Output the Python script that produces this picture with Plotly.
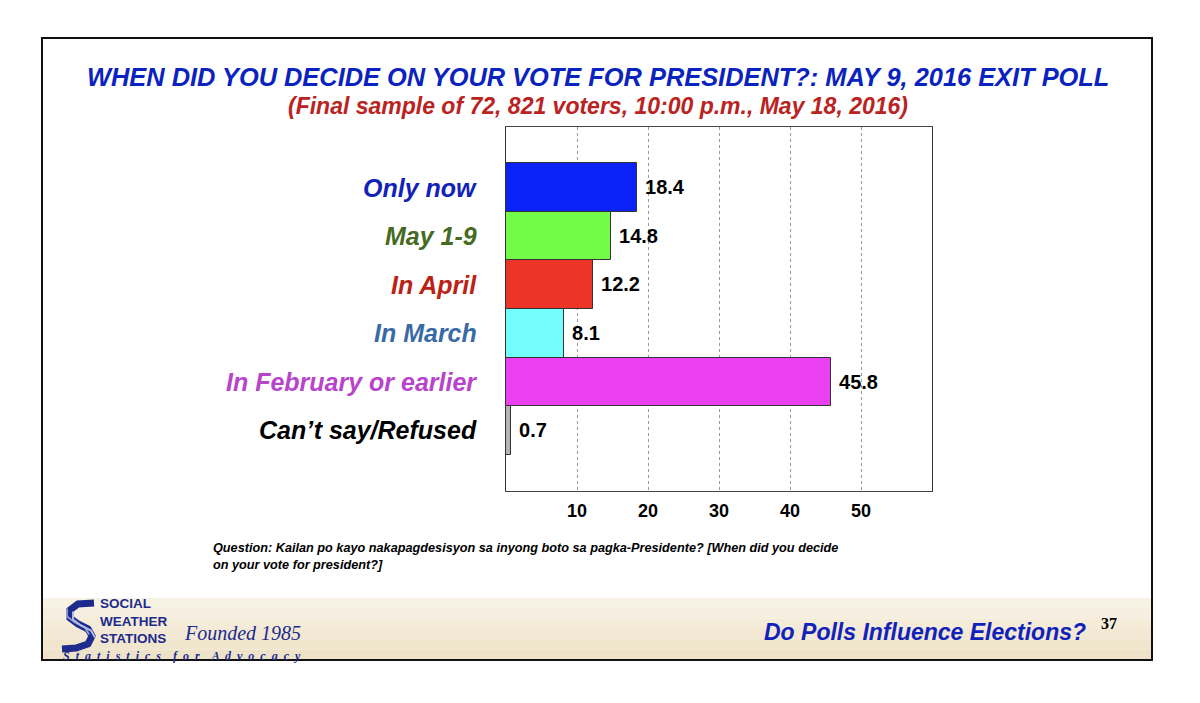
import plotly.graph_objects as go

# ---------------- data ----------------
categories = ["Only now", "May 1-9", "In April", "In March",
              "In February or earlier", "Can\u2019t say/Refused"]
values = [18.4, 14.8, 12.2, 8.1, 45.8, 0.7]
bar_colors = ["#0a22f5", "#74fb4a", "#ec3526", "#74fdfd", "#ea40f2", "#b4b4b4"]
label_colors = ["#1122bb", "#466a22", "#bb2215", "#3a6aa6", "#b844cc", "#000000"]
x_ticks = [10, 20, 30, 40, 50]

title_text = "WHEN DID YOU DECIDE ON YOUR VOTE FOR PRESIDENT?: MAY 9, 2016 EXIT POLL"
subtitle_text = "(Final sample of 72, 821 voters, 10:00 p.m., May 18, 2016)"
question_text = ("Question: Kailan po kayo nakapagdesisyon sa inyong boto sa pagka-Presidente? "
                 "[When did you decide<br>on your vote for president?]")
footer_text = "Do Polls Influence Elections?"
page_no = "37"
logo_lines = ["SOCIAL", "WEATHER", "STATIONS"]

W, H = 1200, 703


def px(x):
    return x / W


def py(y):
    return 1 - y / H


SANS = "Liberation Sans, Arial, Helvetica, sans-serif"
SERIF = "Liberation Serif, Times New Roman, serif"

ypos = list(range(len(categories)))

fig = go.Figure()
fig.add_trace(go.Bar(
    y=ypos, x=values, orientation="h",
    marker=dict(color=bar_colors, line=dict(color="#333333", width=1)),
    width=1,
    text=["\u00a0" + f"{v:.1f}" for v in values],
    textposition="outside",
    textfont=dict(family=SANS, size=20, color="#000000", weight="bold"),
    cliponaxis=False,
    hoverinfo="skip",
))

shapes = []
band_cols = ["#f8f2e5", "#f6efdf", "#f4ecd9", "#f2e8d3", "#f0e5cd", "#eee2c8"]
top, bot = 598, 660
step = (bot - top) / len(band_cols)
for i, c in enumerate(band_cols):
    shapes.append(dict(type="rect", xref="paper", yref="paper",
                       x0=px(42), x1=px(1152), y0=py(top + step * (i + 1)), y1=py(top + step * i),
                       fillcolor=c, line=dict(width=0), layer="below"))
shapes.append(dict(type="rect", xref="paper", yref="paper",
                   x0=px(42), x1=px(1152), y0=py(660), y1=py(38),
                   line=dict(color="#111111", width=2), fillcolor="rgba(0,0,0,0)"))


def path_from(points):
    s = "M {} {}".format(px(points[0][0]), py(points[0][1]))
    for (x, y) in points[1:]:
        s += " L {} {}".format(px(x), py(y))
    return s


s_pts = [(94, 603), (78, 604), (70, 610), (70, 618), (78, 624), (88, 629), (92, 636), (88, 644), (76, 648), (62, 649)]
shapes.append(dict(type="path", xref="paper", yref="paper", path=path_from(s_pts),
                   line=dict(color="#1c2b8c", width=7)))
for off, col in [(-5, "#8d96cf"), (5, "#b4bbe0")]:
    pts = [(x + off * 0.6, y + off * 0.3) for (x, y) in s_pts[2:7]]
    shapes.append(dict(type="path", xref="paper", yref="paper", path=path_from(pts),
                       line=dict(color=col, width=2)))

annotations = []
for i, (cat, col) in enumerate(zip(categories, label_colors)):
    annotations.append(dict(xref="paper", yref="y", x=px(479), y=ypos[i], xanchor="right", yanchor="middle",
                            text=cat, showarrow=False,
                            font=dict(family=SANS, size=25, color=col, weight="bold", style="italic")))
annotations += [
    dict(xref="paper", yref="paper", x=px(598), y=py(77), text=title_text, showarrow=False,
         xanchor="center", yanchor="middle",
         font=dict(family=SANS, size=25.4, color="#0a22c0", weight="bold", style="italic")),
    dict(xref="paper", yref="paper", x=px(598), y=py(106), text=subtitle_text, showarrow=False,
         xanchor="center", yanchor="middle",
         font=dict(family=SANS, size=23, color="#bb2222", weight="bold", style="italic")),
    dict(xref="paper", yref="paper", x=px(211), y=py(556), text=question_text, showarrow=False,
         xanchor="left", yanchor="middle", align="left",
         font=dict(family=SANS, size=12.7, color="#000000", weight="bold", style="italic")),
    dict(xref="paper", yref="paper", x=px(1088), y=py(632), text=footer_text, showarrow=False,
         xanchor="right", yanchor="middle",
         font=dict(family=SANS, size=23, color="#1122bb", weight="bold", style="italic")),
    dict(xref="paper", yref="paper", x=px(1109), y=py(623), text=page_no, showarrow=False,
         xanchor="center", yanchor="middle",
         font=dict(family=SERIF, size=16, color="#000000", weight="bold")),
    dict(xref="paper", yref="paper", x=px(182), y=py(633), text="Founded 1985", showarrow=False,
         xanchor="left", yanchor="middle",
         font=dict(family=SERIF, size=20, color="#1c2b8c", style="italic")),
    dict(xref="paper", yref="paper", x=px(62), y=py(656),
         text="S &nbsp;t &nbsp;a &nbsp;t &nbsp;i &nbsp;s &nbsp;t &nbsp;i &nbsp;c &nbsp;s &nbsp; &nbsp;"
              "f &nbsp;o &nbsp;r &nbsp; &nbsp;A &nbsp;d &nbsp;v &nbsp;o &nbsp;c &nbsp;a &nbsp;c &nbsp;y",
         showarrow=False, xanchor="left", yanchor="middle", borderpad=0,
         font=dict(family=SERIF, size=12, color="#1c2b8c", weight="bold", style="italic")),
    dict(xref="paper", yref="paper", x=px(99), y=py(621), text="<br>".join(logo_lines),
         showarrow=False, xanchor="left", yanchor="middle", align="left", borderpad=0,
         font=dict(family=SANS, size=13.5, color="#1c2b8c", weight="bold")),
]

fig.update_layout(
    width=W, height=H, margin=dict(l=0, r=0, t=0, b=0),
    paper_bgcolor="#ffffff", plot_bgcolor="#ffffff",
    showlegend=False, bargap=0,
    shapes=shapes, annotations=annotations,
    xaxis=dict(domain=[px(506), px(932)], range=[0, 60], autorange=False, tickvals=x_ticks,
               ticktext=[str(t) for t in x_ticks],
               showgrid=True, gridcolor="#9a9a9a", griddash="dot", gridwidth=1,
               showline=True, linecolor="#444444", linewidth=1, mirror=True,
               ticks="", ticklabelstandoff=3, zeroline=False,
               tickfont=dict(family=SANS, size=18, color="#000000", weight="bold")),
    yaxis=dict(domain=[py(491), py(127)], range=[6.25, -1.25], autorange=False,
               showticklabels=False, ticks="", zeroline=False,
               showgrid=False, showline=True, linecolor="#333333", linewidth=1, mirror=True),
)

fig.write_html("out.html", config={"displayModeBar": False},
               post_script="document.body.style.margin='0';")
